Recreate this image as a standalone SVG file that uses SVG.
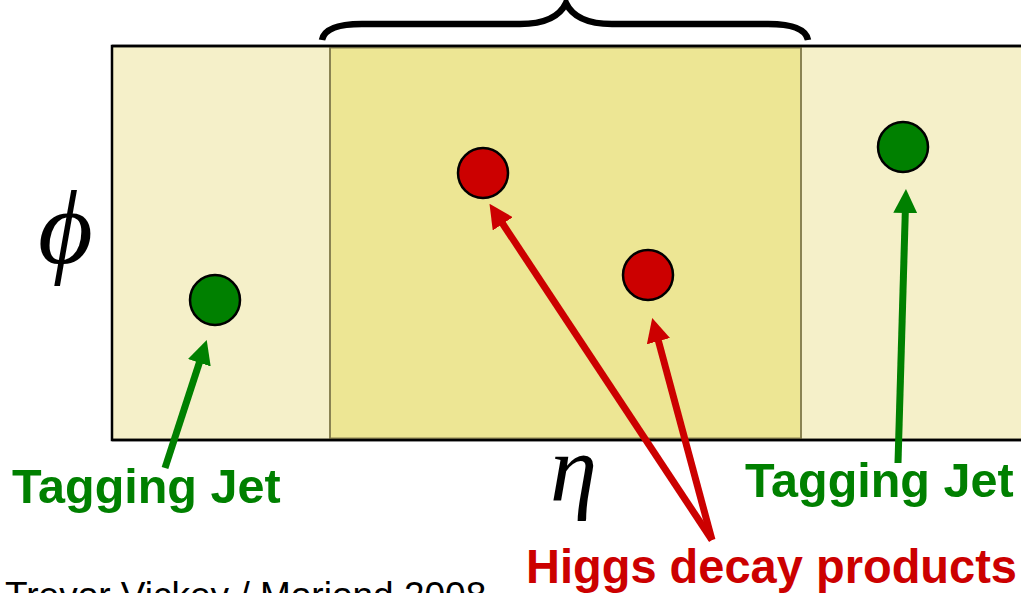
<svg xmlns="http://www.w3.org/2000/svg" width="1021" height="593" viewBox="0 0 1021 593">
<style>
.lbl{font-family:"Liberation Sans",Arial,sans-serif;font-weight:bold;font-size:48.5px}
.g{fill:#008000}
.r{fill:#cc0000}
.dot{stroke:#000;stroke-width:2.5}
.math{font-family:"Liberation Serif","Times New Roman",serif;font-style:italic;fill:#000}
</style>
<defs>
<marker id="ag" viewBox="0 -12 24 24" refX="1" refY="0" markerWidth="24" markerHeight="24" markerUnits="userSpaceOnUse" orient="auto"><path d="M0,-12 L24,0 L0,12 z" fill="#008000"/></marker>
<marker id="ar" viewBox="0 -12 24 24" refX="1" refY="0" markerWidth="24" markerHeight="24" markerUnits="userSpaceOnUse" orient="auto"><path d="M0,-12 L24,0 L0,12 z" fill="#cc0000"/></marker>
</defs>
<rect width="1021" height="593" fill="#fff"/>
<g id="plane">
<rect x="112" y="46" width="920" height="394" fill="#f5f0c9" stroke="#000" stroke-width="2.5"/>
<rect x="330" y="47.5" width="471" height="391" fill="#ede694" stroke="#8a8352" stroke-width="2"/>
<line x1="112" y1="46" x2="1021" y2="46" stroke="#000" stroke-width="2.5"/>
<line x1="112" y1="440" x2="1021" y2="440" stroke="#000" stroke-width="2.5"/>
</g>
<g id="brace">
<path d="M322,40 C324,29 338,24 362,24 L520,24 C546,24 560,16 566,3 C572,16 586,24 612,24 L768,24 C792,24 806,29 808,40" fill="none" stroke="#000" stroke-width="6.5"/>
</g>
<g id="jet1"><circle cx="215" cy="300" r="25" class="g dot"/></g>
<g id="higgs1"><circle cx="483" cy="173" r="25" class="r dot"/></g>
<g id="higgs2"><circle cx="648" cy="275" r="25" class="r dot"/></g>
<g id="jet2"><circle cx="903" cy="147" r="25" class="g dot"/></g>
<g id="connectors" fill="none" stroke-width="7">
<line x1="165" y1="468" x2="199.6" y2="361.8" stroke="#008000" marker-end="url(#ag)"/>
<line x1="898" y1="463" x2="905.3" y2="212" stroke="#008000" marker-end="url(#ag)"/>
<line x1="712" y1="540" x2="502.2" y2="223" stroke="#cc0000" marker-end="url(#ar)"/>
<line x1="712" y1="540" x2="658.2" y2="340.2" stroke="#cc0000" marker-end="url(#ar)"/>
</g>
<g id="labels">
<text x="526" y="583" class="lbl r" textLength="491" lengthAdjust="spacingAndGlyphs">Higgs decay products</text>
<text x="12" y="503" class="lbl g">Tagging Jet</text>
<text x="745" y="497" class="lbl g">Tagging Jet</text>
<text x="5" y="608" font-family="Liberation Sans,Arial,sans-serif" font-size="37" fill="#000">Trevor Vickey / Moriond 2008</text>
<text x="38" y="263" class="math" font-size="106">ϕ</text>
<text x="550" y="501" class="math" font-size="95">η</text>
</g>
</svg>
